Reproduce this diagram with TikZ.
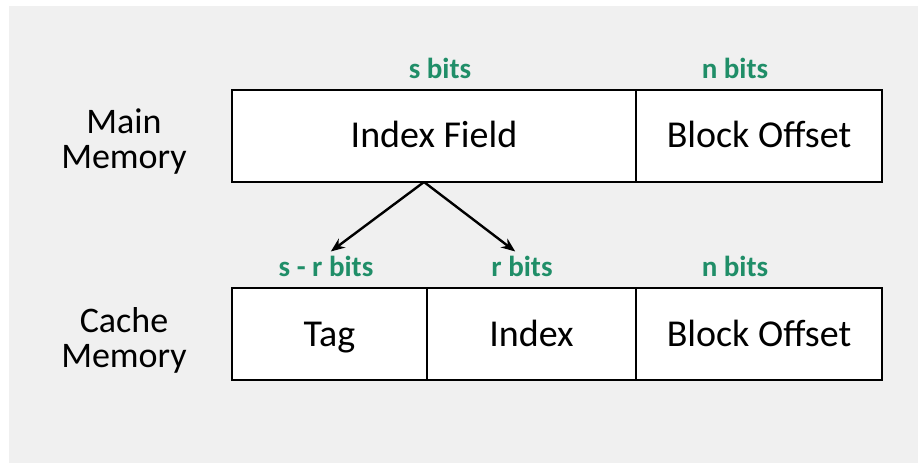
\documentclass[tikz,border=0pt]{standalone}
\usepackage{fontspec}
\setmainfont{Carlito}
\usetikzlibrary{arrows.meta,positioning}
\definecolor{bitgreen}{RGB}{32,142,104}
\definecolor{panelgray}{RGB}{240,240,240}

\begin{document}
\begin{tikzpicture}[x=1pt,y=-1pt,>={Stealth[length=14pt,width=11pt]},semithick]
		\tikzstyle{field}=[draw,line width=2.4pt,fill=white,outer sep=0pt,inner sep=0pt,
		minimum height=92pt,text height=26pt,text depth=2pt,font=\fontsize{38}{38}\selectfont]
		\tikzstyle{bits}=[text=bitgreen,font=\fontsize{29}{29}\selectfont\bfseries]
		\tikzstyle{memname}=[align=center,font=\fontsize{36}{35}\selectfont]
		
		% page and grey panel
		\useasboundingbox (0,0) rectangle (918,465);
		\fill[white] (0,0) rectangle (918,465);
		\fill[panelgray] (9,6) rectangle (918,463);
		
		% main memory address
		\node[field, minimum width=404pt] (IndexField) at (434,136) {Index Field};
		\node[field, minimum width=246pt] (OffsetMain) [right=0pt of IndexField] {Block Offset};
		
		% cache memory address
		\node[field, minimum width=195pt] (Tag) at (329.5,334) {Tag};
		\node[field, minimum width=209pt] (Index) [right=0pt of Tag] {Index};
		\node[field, minimum width=246pt] (OffsetCache) [right=0pt of Index] {Block Offset};
		
		\node[memname] (MainMem)  at (124,142) {Main\\Memory};
		\node[memname] (CacheMem) at (124,340) {Cache\\Memory};
		
		% widths of the fields
		\node[bits] (sBits)  at (440,68)  {s bits};
		\node[bits] (nBitsA) at (735,68)  {n bits};
		\node[bits] (srBits) at (326,266) {s - r bits};
		\node[bits] (rBits)  at (522,266) {r bits};
		\node[bits] (nBitsB) at (735,266) {n bits};
		
		\coordinate (Split) at (424,182);
		\draw[->,line width=2.4pt,shorten >=1pt] (Split) -- ([xshift=4pt]srBits.north);
		\draw[->,line width=2.4pt,shorten >=1pt] (Split) -- ([xshift=-6pt]rBits.north);
\end{tikzpicture}
\end{document}
